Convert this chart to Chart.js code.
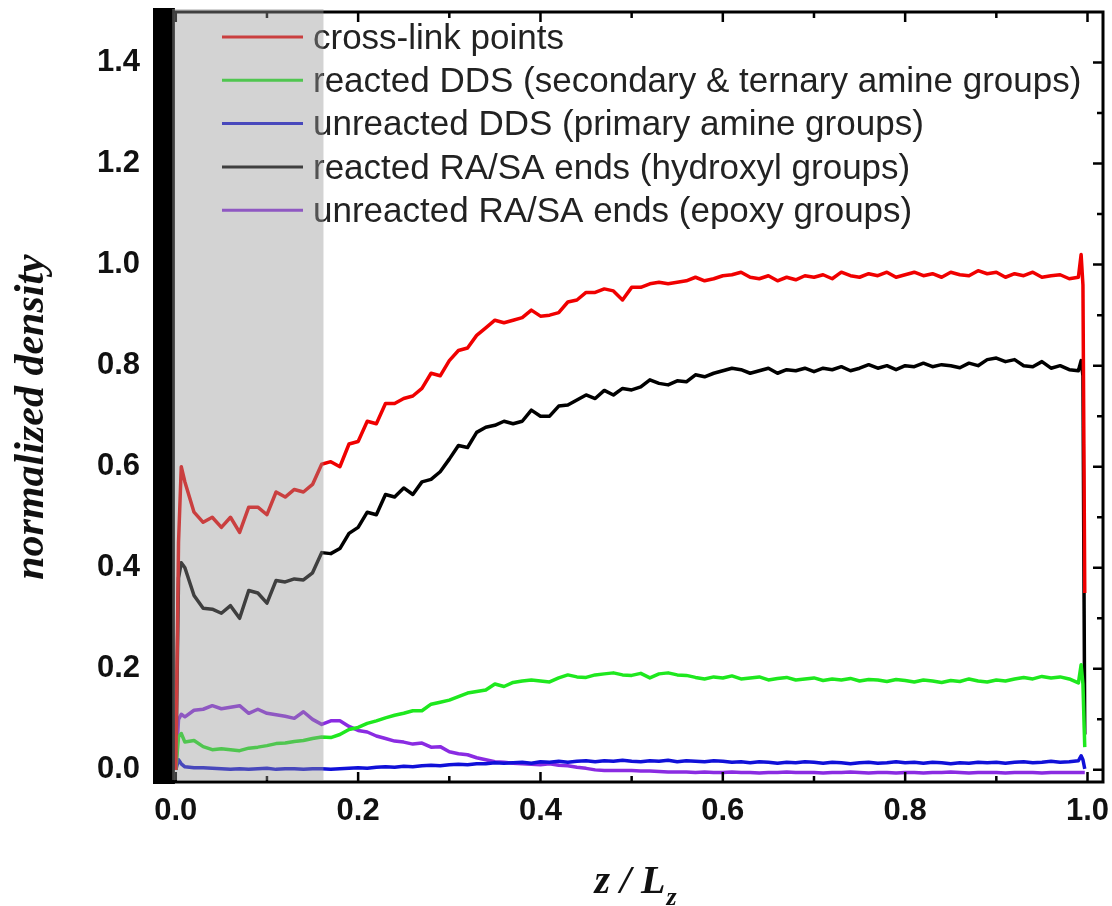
<!DOCTYPE html>
<html>
<head>
<meta charset="utf-8">
<title>Normalized density profiles</title>
<script src="https://cdn.jsdelivr.net/npm/chart.js@4.4.1/dist/chart.umd.min.js"></script>
<style>
  html, body { margin: 0; padding: 0; background: #ffffff; }
  #wrap { width: 1112px; height: 906px; position: relative; }
  canvas { display: block; }
</style>
</head>
<body>
<div id="wrap"><canvas id="chart" width="1112" height="906"></canvas></div>
<script>
// Position along the box, z / Lz
const zPos = [
  0, 0.003, 0.006,
  0.01, 0.02, 0.03, 0.04, 0.05, 0.06, 0.07, 0.08, 0.09,
  0.10, 0.11, 0.12, 0.13, 0.14, 0.15, 0.16, 0.17, 0.18, 0.19,
  0.20, 0.21, 0.22, 0.23, 0.24, 0.25, 0.26, 0.27, 0.28, 0.29,
  0.30, 0.31, 0.32, 0.33, 0.34, 0.35, 0.36, 0.37, 0.38, 0.39,
  0.40, 0.41, 0.42, 0.43, 0.44, 0.45, 0.46, 0.47, 0.48, 0.49,
  0.50, 0.51, 0.52, 0.53, 0.54, 0.55, 0.56, 0.57, 0.58, 0.59,
  0.60, 0.61, 0.62, 0.63, 0.64, 0.65, 0.66, 0.67, 0.68, 0.69,
  0.70, 0.71, 0.72, 0.73, 0.74, 0.75, 0.76, 0.77, 0.78, 0.79,
  0.80, 0.81, 0.82, 0.83, 0.84, 0.85, 0.86, 0.87, 0.88, 0.89,
  0.90, 0.91, 0.92, 0.93, 0.94, 0.95, 0.96, 0.97, 0.98, 0.99,
  0.993, 0.995, 0.997
];

const crossLinkPoints = [
  0.00, 0.45, 0.60,
  0.57, 0.51, 0.49, 0.50, 0.48, 0.50, 0.47, 0.52, 0.52,
  0.505, 0.55, 0.54, 0.555, 0.55, 0.565, 0.605, 0.61, 0.60, 0.645,
  0.65, 0.69, 0.685, 0.725, 0.725, 0.735, 0.74, 0.755, 0.785, 0.78,
  0.81, 0.83, 0.835, 0.86, 0.875, 0.89, 0.885, 0.89, 0.895, 0.91,
  0.898, 0.90, 0.905, 0.926, 0.93, 0.945, 0.945, 0.952, 0.948, 0.93,
  0.955, 0.955, 0.962, 0.965, 0.962, 0.965, 0.968, 0.975, 0.968, 0.972,
  0.978, 0.98, 0.985, 0.975, 0.972, 0.978, 0.968, 0.975, 0.97, 0.978,
  0.975, 0.98, 0.972, 0.985, 0.978, 0.975, 0.982, 0.978, 0.985, 0.975,
  0.98, 0.985, 0.978, 0.982, 0.975, 0.985, 0.98, 0.978, 0.988, 0.982,
  0.985, 0.975, 0.982, 0.978, 0.985, 0.975, 0.978, 0.98, 0.972, 0.975,
  1.02, 0.96, 0.35
];

const reactedDDS = [
  0.00, 0.065, 0.072,
  0.055, 0.058, 0.046, 0.04, 0.042, 0.04, 0.038, 0.043, 0.045,
  0.048, 0.052, 0.053, 0.056, 0.058, 0.062, 0.065, 0.064, 0.07, 0.08,
  0.084, 0.092, 0.097, 0.103, 0.108, 0.112, 0.117, 0.117, 0.13, 0.134,
  0.138, 0.145, 0.152, 0.155, 0.158, 0.17, 0.165, 0.173, 0.176, 0.178,
  0.176, 0.174, 0.182, 0.188, 0.184, 0.183, 0.188, 0.19, 0.192, 0.188,
  0.187, 0.191, 0.182, 0.19, 0.192, 0.188, 0.187, 0.183, 0.18, 0.184,
  0.182, 0.186, 0.18, 0.182, 0.184, 0.178, 0.181, 0.183, 0.178, 0.18,
  0.182, 0.177, 0.18, 0.178, 0.181, 0.176, 0.179, 0.178, 0.175, 0.179,
  0.177, 0.174, 0.178, 0.176, 0.173, 0.177, 0.175, 0.18, 0.176, 0.174,
  0.178, 0.176, 0.18, 0.183, 0.18, 0.185, 0.182, 0.184, 0.18, 0.172,
  0.208, 0.17, 0.045
];

const unreactedDDS = [
  0.00, 0.02, 0.012,
  0.006, 0.004, 0.004, 0.003, 0.002, 0.001, 0.002, 0.001, 0.002,
  0.003, 0.001, 0.002, 0.002, 0.001, 0.002, 0.002, 0.001, 0.002, 0.003,
  0.004, 0.003, 0.005, 0.006, 0.005, 0.007, 0.006, 0.008, 0.009, 0.008,
  0.010, 0.011, 0.010, 0.012, 0.012, 0.014, 0.013, 0.014, 0.015, 0.013,
  0.016, 0.015, 0.017, 0.015, 0.017, 0.018, 0.016, 0.018, 0.017, 0.019,
  0.017, 0.016, 0.018, 0.017, 0.019, 0.016, 0.018, 0.017, 0.016, 0.018,
  0.017, 0.015, 0.016, 0.014, 0.016, 0.015, 0.013, 0.015, 0.014, 0.016,
  0.015, 0.013, 0.015, 0.014, 0.012, 0.014, 0.015, 0.013, 0.014, 0.016,
  0.014, 0.015, 0.013, 0.015, 0.014, 0.012, 0.014, 0.013, 0.015, 0.014,
  0.015, 0.013, 0.015, 0.016, 0.014, 0.015, 0.017, 0.015, 0.016, 0.018,
  0.028, 0.02, 0.002
];

const reactedEnds = [
  0.00, 0.38, 0.41,
  0.40, 0.345, 0.32, 0.318, 0.31, 0.325, 0.30, 0.355, 0.35,
  0.33, 0.375, 0.372, 0.378, 0.376, 0.39, 0.43, 0.428, 0.438, 0.468,
  0.48, 0.51, 0.505, 0.545, 0.54, 0.558, 0.545, 0.57, 0.575, 0.59,
  0.615, 0.642, 0.638, 0.668, 0.678, 0.682, 0.69, 0.685, 0.69, 0.712,
  0.70, 0.70, 0.72, 0.722, 0.732, 0.742, 0.735, 0.751, 0.742, 0.755,
  0.752, 0.758, 0.772, 0.765, 0.762, 0.77, 0.768, 0.782, 0.778, 0.785,
  0.79, 0.795, 0.792, 0.785, 0.79, 0.795, 0.785, 0.792, 0.79, 0.795,
  0.788, 0.795, 0.792, 0.798, 0.79, 0.795, 0.802, 0.795, 0.80, 0.792,
  0.80, 0.798, 0.805, 0.798, 0.802, 0.80, 0.796, 0.805, 0.80, 0.812,
  0.815, 0.808, 0.812, 0.80, 0.798, 0.808, 0.795, 0.80, 0.792, 0.79,
  0.81, 0.78, 0.07
];

const unreactedEnds = [
  0.00, 0.10, 0.11,
  0.105, 0.118, 0.12, 0.127, 0.121, 0.124, 0.127, 0.112, 0.12,
  0.112, 0.109, 0.106, 0.102, 0.115, 0.10, 0.09, 0.097, 0.097, 0.086,
  0.078, 0.075, 0.067, 0.062, 0.057, 0.055, 0.051, 0.053, 0.045, 0.046,
  0.036, 0.032, 0.03, 0.024, 0.02, 0.016, 0.015, 0.013, 0.012, 0.011,
  0.01, 0.012, 0.009, 0.008, 0.005, 0.003, 0.0, -0.001, -0.001, -0.001,
  -0.001, -0.002, -0.002, -0.003, -0.004, -0.004, -0.004, -0.005, -0.004, -0.005,
  -0.005, -0.004, -0.005, -0.005, -0.006, -0.005, -0.005, -0.004, -0.005, -0.005,
  -0.005, -0.006, -0.005, -0.005, -0.004, -0.005, -0.006, -0.005, -0.005, -0.006,
  -0.005, -0.005, -0.006, -0.005, -0.005, -0.004, -0.005, -0.006, -0.005, -0.005,
  -0.005, -0.006, -0.005, -0.005, -0.005, -0.006, -0.005, -0.005, -0.005, -0.005,
  -0.005, -0.005, -0.005
];

const seriesLabels = [
  'cross-link points',
  'reacted DDS (secondary & ternary amine groups)',
  'unreacted DDS (primary amine groups)',
  'reacted RA/SA ends (hydroxyl groups)',
  'unreacted RA/SA ends (epoxy groups)'
];
const seriesColors = ['#f00000', '#1ee81e', '#1010d8', '#000000', '#8a2be2'];

const xTickValues = [0.0, 0.2, 0.4, 0.6, 0.8, 1.0];
const xMinorTicks = [0.1, 0.3, 0.5, 0.7, 0.9];
const yTickValues = [0.0, 0.2, 0.4, 0.6, 0.8, 1.0, 1.2, 1.4];
const yMinorTicks = [0.1, 0.3, 0.5, 0.7, 0.9, 1.1, 1.3];

// Shaded interfacial region next to the wall at the left of the box
const shadeFrom = -0.004;
const shadeTo = 0.162;

const seriesValues = [crossLinkPoints, reactedDDS, unreactedDDS, reactedEnds, unreactedEnds];

const datasets = seriesValues.map((vals, i) => ({
  label: seriesLabels[i],
  data: zPos.map((z, k) => ({ x: z, y: vals[k] })),
  borderColor: seriesColors[i],
  backgroundColor: seriesColors[i],
  borderWidth: 3.5,
  pointRadius: 0,
  tension: 0,
  fill: false,
  borderJoinStyle: 'round'
}));

const SANS = '"Liberation Sans", Arial, Helvetica, sans-serif';
const SERIF = '"Liberation Serif", "Times New Roman", Times, serif';

// keep the plot frame at fixed edges: no extra room for edge labels
function fixBox(scale, size) {
  if (scale.isHorizontal()) scale.height = size; else scale.width = size;
  scale.paddingTop = 0;
  scale.paddingBottom = 0;
  scale.paddingLeft = 0;
  scale.paddingRight = 0;
}

const frameDecor = {
  id: 'frameDecor',
  afterDatasetsDraw(chart) {
    const { ctx, chartArea: a, scales } = chart;
    const xs = scales.x, ys = scales.y;
    ctx.save();

    // legend in the upper left corner of the plot
    ctx.font = '35px ' + SANS;
    ctx.textBaseline = 'middle';
    ctx.textAlign = 'left';
    chart.data.datasets.forEach((d, i) => {
      const ly = a.top + 25 + i * 43.3;
      ctx.strokeStyle = d.borderColor;
      ctx.lineWidth = 3;
      ctx.beginPath();
      ctx.moveTo(a.left + 69, ly);
      ctx.lineTo(a.left + 150, ly);
      ctx.stroke();
      ctx.fillStyle = '#222222';
      ctx.fillText(d.label, a.left + 160, ly + 2);
    });

    // frame
    ctx.strokeStyle = '#000';
    ctx.lineWidth = 3;
    ctx.lineJoin = 'miter';
    ctx.beginPath();
    ctx.moveTo(a.left, a.top);
    ctx.lineTo(a.right, a.top);
    ctx.lineTo(a.right, a.bottom);
    ctx.lineTo(a.left, a.bottom);
    ctx.stroke();

    // inward tick marks
    ctx.lineWidth = 2.5;
    ctx.beginPath();
    const tickX = (v, len) => {
      const px = xs.getPixelForValue(v);
      ctx.moveTo(px, a.bottom); ctx.lineTo(px, a.bottom - len);
      ctx.moveTo(px, a.top); ctx.lineTo(px, a.top + len);
    };
    const tickY = (v, len) => {
      const py = ys.getPixelForValue(v);
      ctx.moveTo(a.right, py); ctx.lineTo(a.right - len, py);
    };
    xTickValues.forEach(v => tickX(v, 10));
    xMinorTicks.forEach(v => tickX(v, 6));
    yTickValues.forEach(v => tickY(v, 10));
    yMinorTicks.forEach(v => tickY(v, 6));
    ctx.stroke();

    // left wall
    const wallRight = xs.getPixelForValue(-0.001);
    ctx.fillStyle = '#000';
    ctx.fillRect(a.left, a.top - 4, wallRight - a.left, a.bottom - a.top + 6);

    // translucent grey shading over the interfacial region
    const s0 = xs.getPixelForValue(shadeFrom);
    const s1 = xs.getPixelForValue(shadeTo);
    ctx.fillStyle = 'rgba(150,150,150,0.42)';
    ctx.fillRect(s0, a.top - 3, s1 - s0, a.bottom - 2 - (a.top - 3));

    ctx.restore();
  },
  afterDraw(chart) {
    const { ctx } = chart;
    ctx.save();
    ctx.fillStyle = '#111';

    // y axis title
    ctx.translate(32, 417);
    ctx.rotate(-Math.PI / 2);
    ctx.font = 'italic bold 42px ' + SERIF;
    ctx.textAlign = 'center';
    ctx.textBaseline = 'middle';
    ctx.fillText('normalized density', 0, 0);
    ctx.setTransform(1, 0, 0, 1, 0, 0);

    // x axis title with subscript
    const main = 'z / L';
    const sub = 'z';
    ctx.font = 'italic bold 40px ' + SERIF;
    const w1 = ctx.measureText(main).width;
    ctx.font = 'italic bold 26px ' + SERIF;
    const w2 = ctx.measureText(sub).width;
    const x0 = 635 - (w1 + w2) / 2;
    ctx.textAlign = 'left';
    ctx.textBaseline = 'alphabetic';
    ctx.font = 'italic bold 40px ' + SERIF;
    ctx.fillText(main, x0, 893);
    ctx.font = 'italic bold 26px ' + SERIF;
    ctx.fillText(sub, x0 + w1 + 1, 905);
    ctx.restore();
  }
};

new Chart(document.getElementById('chart'), {
  type: 'line',
  data: { datasets },
  options: {
    responsive: false,
    devicePixelRatio: 1,
    animation: false,
    layout: { padding: { top: 12, right: 9, left: 0, bottom: 0 } },
    plugins: {
      legend: { display: false },
      tooltip: { enabled: false },
      title: { display: false }
    },
    scales: {
      x: {
        type: 'linear',
        min: -0.025,
        max: 1.017,
        afterFit(scale) { fixBox(scale, 124); },
        afterBuildTicks(scale) { scale.ticks = xTickValues.map(v => ({ value: v })); },
        grid: { display: false, drawTicks: false },
        border: { display: false },
        ticks: {
          autoSkip: false,
          maxRotation: 0,
          padding: 11,
          color: '#111',
          font: { family: SANS, size: 31, weight: 'bold' },
          callback: v => Number(v).toFixed(1)
        }
      },
      y: {
        type: 'linear',
        min: -0.024,
        max: 1.5,
        afterFit(scale) { fixBox(scale, 153); },
        afterBuildTicks(scale) { scale.ticks = yTickValues.map(v => ({ value: v })); },
        grid: { display: false, drawTicks: false },
        border: { display: false },
        ticks: {
          autoSkip: false,
          padding: 13,
          color: '#111',
          font: { family: SANS, size: 31, weight: 'bold' },
          callback: v => Number(v).toFixed(1)
        }
      }
    }
  },
  plugins: [frameDecor]
});
</script>
</body>
</html>
